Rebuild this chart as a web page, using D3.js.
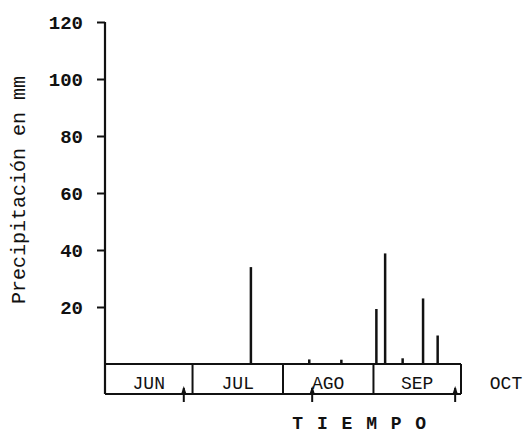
<!DOCTYPE html>
<html>
<head>
<meta charset="utf-8">
<script src="https://cdn.jsdelivr.net/npm/d3@7/dist/d3.min.js"></script>
<style>
  html, body { margin: 0; padding: 0; background: #fff; }
  svg { display: block; }
  text { font-family: "Liberation Mono", "DejaVu Sans Mono", monospace; fill: #111; }
</style>
</head>
<body>
<svg id="chart" width="524" height="433"></svg>
<script>
// Daily rainfall events (mm) over the season
const rainDates = ["2000-07-21", "2000-08-10", "2000-08-21", "2000-09-02", "2000-09-05", "2000-09-11", "2000-09-18", "2000-09-23"];
const rainValues = [34, 1.6, 1.5, 19.3, 38.8, 2, 23, 10];

// Month cells along the time band
const monthStarts = ["2000-06-01", "2000-07-01", "2000-08-01", "2000-09-01", "2000-10-01"];
const monthLabels = ["JUN", "JUL", "AGO", "SEP", "OCT"];

// Marker arrows under the time band
const markerDates = ["2000-06-28", "2000-08-11", "2000-09-29"];

const yTicks = [20, 40, 60, 80, 100, 120];

const parse = d3.timeParse("%Y-%m-%d");
const svg = d3.select("#chart");

const left = 105, right = 461, baseY = 364, topY = 22, bandBottom = 394;

const x = d3.scaleTime()
  .domain([parse(monthStarts[0]), parse(monthStarts[monthStarts.length - 1])])
  .range([left, right]);

const y = d3.scaleLinear().domain([0, 120]).range([baseY, topY]);

const ink = "#111";

// Vertical axis
const yAxis = d3.axisLeft(y).tickValues(yTicks).tickSize(8).tickPadding(14);
const gy = svg.append("g").attr("transform", `translate(${left},0)`).call(yAxis);
gy.select(".domain").remove();
gy.selectAll(".tick line").attr("stroke", ink).attr("stroke-width", 2);
gy.selectAll(".tick text")
  .attr("font-size", 19)
  .attr("font-weight", "bold")
  .attr("font-family", "Liberation Mono, monospace")
  .attr("fill", ink);
svg.append("line")
  .attr("x1", left).attr("x2", left)
  .attr("y1", y(120)).attr("y2", bandBottom)
  .attr("stroke", ink).attr("stroke-width", 2.2);

// Time band (month boxes)
svg.append("line")
  .attr("x1", left).attr("x2", right)
  .attr("y1", baseY).attr("y2", baseY)
  .attr("stroke", ink).attr("stroke-width", 2.2);
svg.append("line")
  .attr("x1", left).attr("x2", right)
  .attr("y1", bandBottom).attr("y2", bandBottom)
  .attr("stroke", ink).attr("stroke-width", 2.2);
svg.append("g").selectAll("line")
  .data(monthStarts.slice(1))
  .join("line")
  .attr("x1", d => x(parse(d))).attr("x2", d => x(parse(d)))
  .attr("y1", baseY).attr("y2", bandBottom)
  .attr("stroke", ink).attr("stroke-width", 2);

// Month names: centred in each cell, the last one past the band
svg.append("g").selectAll("text")
  .data(monthLabels)
  .join("text")
  .attr("x", (d, i) => i < monthStarts.length - 1
    ? (x(parse(monthStarts[i])) + x(parse(monthStarts[i + 1]))) / 2
    : x(parse(monthStarts[i])) + 45)
  .attr("y", 389)
  .attr("text-anchor", "middle")
  .attr("font-size", 18)
  .text(d => d);

// Rainfall spikes
svg.append("g").selectAll("line")
  .data(rainDates.map((d, i) => ({ date: parse(d), v: rainValues[i] })))
  .join("line")
  .attr("x1", d => x(d.date)).attr("x2", d => x(d.date))
  .attr("y1", baseY).attr("y2", d => y(d.v))
  .attr("stroke", ink).attr("stroke-width", 2.5);

// Up-pointing marker arrows
const mk = svg.append("g").selectAll("g")
  .data(markerDates.map(parse))
  .join("g")
  .attr("transform", d => `translate(${x(d)},0)`);
mk.append("line")
  .attr("x1", 0).attr("x2", 0)
  .attr("y1", 388).attr("y2", 402)
  .attr("stroke", ink).attr("stroke-width", 2);
mk.append("path")
  .attr("d", "M0,386 L3,395 L-3,395 Z")
  .attr("fill", ink);

// Axis titles
svg.append("text")
  .attr("transform", "translate(25,190) rotate(-90)")
  .attr("text-anchor", "middle")
  .attr("font-size", 20)
  .text("Precipitación en mm");

svg.append("text")
  .attr("x", 360).attr("y", 429)
  .attr("text-anchor", "middle")
  .attr("font-size", 18)
  .attr("font-weight", "bold")
  .attr("letter-spacing", 1.5)
  .text("T I E M P O");
</script>
</body>
</html>
